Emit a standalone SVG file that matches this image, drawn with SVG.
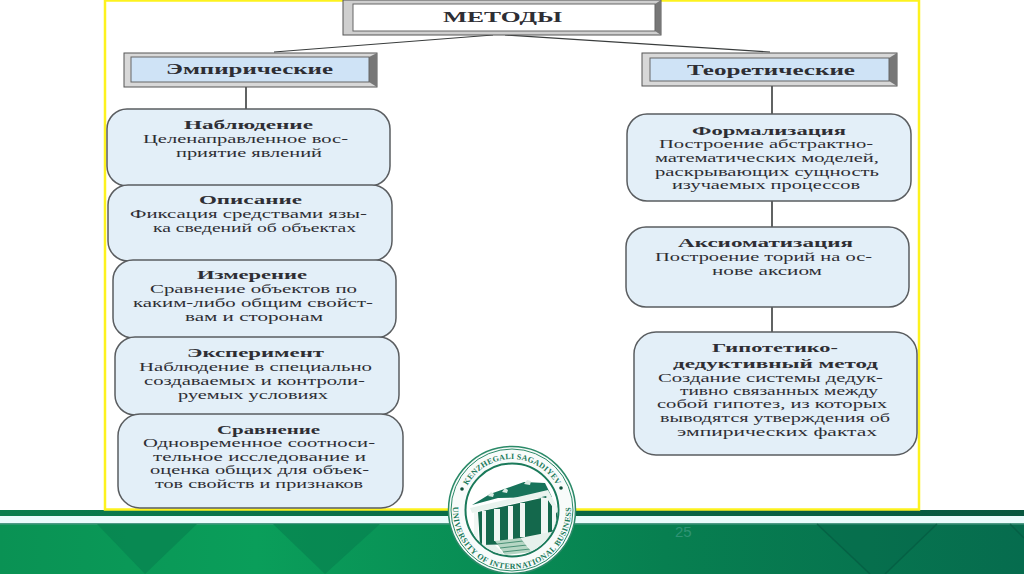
<svg xmlns="http://www.w3.org/2000/svg" width="1024" height="574" viewBox="0 0 1024 574">
<style>
text{font-family:"Liberation Serif","DejaVu Serif",serif;fill:#2e2e34}
.t{font-weight:bold;font-size:13.5px}
.b{font-size:12px}
.h{font-weight:bold;font-size:14.5px}
.n{fill:#e3eff8;stroke:#5a5d60;stroke-width:1.5}
.c{fill:none;stroke:#3a3d3d;stroke-width:1.6}
.seal{font-size:8px;font-weight:bold;fill:#1a7a5a}
.col{fill:#f0f6f3}
</style>
<defs>
<linearGradient id="g" x1="0" x2="1" y1="0" y2="0"><stop offset="0" stop-color="#0a9254"/><stop offset=".25" stop-color="#0a9e5a"/><stop offset=".65" stop-color="#077f50"/><stop offset="1" stop-color="#066c4e"/></linearGradient>
<linearGradient id="g2" x1="0" x2="1" y1="0" y2="0"><stop offset="0" stop-color="#0a7d4d"/><stop offset="1" stop-color="#07573f"/></linearGradient>
<path id="top" d="M461 510A51 51 0 0 1 563 510"/>
<path id="bot" d="M455.300 493.700A59 59 0 1 0 568.700 493.700"/>
<clipPath id="disc"><circle cx="512" cy="510" r="45.500"/></clipPath>
</defs>
<rect width="1024" height="574" fill="#fff"/>
<g id="footer">
<rect y="510" width="1024" height="64" fill="url(#g)"/>
<rect y="510" width="1024" height="6" fill="url(#g2)"/>
<rect y="516" width="1024" height="8" fill="#e9fbfb"/>
<rect y="523" width="1024" height="1.500" fill="#4e9a85"/>
<path d="M97 524H197L145 574ZM273 524H380L325 574Z" fill="#067f4e" opacity=".6"/>
<path d="M817 524H937L885 574H870Z" fill="#066548" opacity=".3"/>
<path d="M817 524L870 574M937 524L885 574M1010 524L1024 538" fill="none" stroke="#05573f" stroke-width="1.500" opacity=".6"/>
</g>
<rect id="frame" x="105" y="0.500" width="814" height="509" fill="#fff" stroke="#fdf21e" stroke-width="2.500"/>
<g id="connectors">
<path class="c" d="M246 87V109M772 86V114M772 201V227M772 307V332"/>
<path class="c" style="stroke-width:1.200" d="M274 52L493 35M505 35L770 52"/>
</g>
<g id="methods">
<rect x="343" y="0" width="318" height="35" fill="#cfcfcf" stroke="#555"/>
<path d="M655 4L661 0V35L655 31Z" fill="#777"/>
<rect x="353" y="4" width="302" height="27" fill="#fff" stroke="#666"/>
<text class="h" x="443" y="22" textLength="119" lengthAdjust="spacingAndGlyphs">МЕТОДЫ</text>
</g>
<g id="empirical">
<rect x="124" y="53" width="253" height="34" fill="#d8d8d8" stroke="#555"/>
<path d="M369 57L377 53V87L369 82Z" fill="#777"/>
<rect x="131" y="57" width="238" height="25" fill="#cfe3f6" stroke="#666"/>
<text class="h" x="166" y="74" textLength="167" lengthAdjust="spacingAndGlyphs">Эмпирические</text>
</g>
<g id="theoretical">
<rect x="642" y="53" width="255" height="33" fill="#d8d8d8" stroke="#555"/>
<path d="M889 58L897 53V86L889 81Z" fill="#777"/>
<rect x="650" y="58" width="239" height="23" fill="#cfe3f6" stroke="#666"/>
<text class="h" x="687" y="75" textLength="168" lengthAdjust="spacingAndGlyphs">Теоретические</text>
</g>
<g id="observation">
<rect class="n" x="107" y="109" width="283" height="77" rx="20"/>
<text class="t" x="184" y="129" textLength="129" lengthAdjust="spacingAndGlyphs">Наблюдение</text>
<text class="b" x="143" y="143" textLength="205" lengthAdjust="spacingAndGlyphs">Целенаправленное вос-</text>
<text class="b" x="176" y="157" textLength="146" lengthAdjust="spacingAndGlyphs">приятие явлений</text>
</g>
<g id="description">
<rect class="n" x="108" y="185" width="284" height="76" rx="20"/>
<text class="t" x="199" y="204" textLength="103" lengthAdjust="spacingAndGlyphs">Описание</text>
<text class="b" x="130" y="218" textLength="237" lengthAdjust="spacingAndGlyphs">Фиксация средствами язы-</text>
<text class="b" x="153" y="232" textLength="203" lengthAdjust="spacingAndGlyphs">ка сведений об объектах</text>
</g>
<g id="measurement">
<rect class="n" x="113" y="260" width="283" height="78" rx="20"/>
<text class="t" x="197" y="279" textLength="110" lengthAdjust="spacingAndGlyphs">Измерение</text>
<text class="b" x="150" y="293" textLength="207" lengthAdjust="spacingAndGlyphs">Сравнение объектов по</text>
<text class="b" x="133" y="307" textLength="240" lengthAdjust="spacingAndGlyphs">каким-либо общим свойст-</text>
<text class="b" x="185" y="321" textLength="138" lengthAdjust="spacingAndGlyphs">вам и сторонам</text>
</g>
<g id="experiment">
<rect class="n" x="115" y="337" width="284" height="78" rx="20"/>
<text class="t" x="187" y="357" textLength="137" lengthAdjust="spacingAndGlyphs">Эксперимент</text>
<text class="b" x="139" y="371" textLength="233" lengthAdjust="spacingAndGlyphs">Наблюдение в специально</text>
<text class="b" x="144" y="385" textLength="221" lengthAdjust="spacingAndGlyphs">создаваемых и контроли-</text>
<text class="b" x="178" y="399" textLength="150" lengthAdjust="spacingAndGlyphs">руемых условиях</text>
</g>
<g id="comparison">
<rect class="n" x="118" y="414" width="285" height="94" rx="22"/>
<text class="t" x="217" y="434" textLength="103" lengthAdjust="spacingAndGlyphs">Сравнение</text>
<text class="b" x="143" y="447" textLength="232" lengthAdjust="spacingAndGlyphs">Одновременное соотноси-</text>
<text class="b" x="153" y="461" textLength="213" lengthAdjust="spacingAndGlyphs">тельное исследование и</text>
<text class="b" x="150" y="474" textLength="219" lengthAdjust="spacingAndGlyphs">оценка общих для объек-</text>
<text class="b" x="155" y="488" textLength="208" lengthAdjust="spacingAndGlyphs">тов свойств и признаков</text>
</g>
<g id="formalization">
<rect class="n" x="627" y="114" width="284" height="87" rx="20"/>
<text class="t" x="692" y="135" textLength="154" lengthAdjust="spacingAndGlyphs">Формализация</text>
<text class="b" x="659" y="148" textLength="214" lengthAdjust="spacingAndGlyphs">Построение абстрактно-</text>
<text class="b" x="655" y="162" textLength="224" lengthAdjust="spacingAndGlyphs">математических моделей,</text>
<text class="b" x="655" y="176" textLength="224" lengthAdjust="spacingAndGlyphs">раскрывающих сущность</text>
<text class="b" x="672" y="189" textLength="188" lengthAdjust="spacingAndGlyphs">изучаемых процессов</text>
</g>
<g id="axiomatization">
<rect class="n" x="626" y="227" width="283" height="80" rx="20"/>
<text class="t" x="678" y="247" textLength="175" lengthAdjust="spacingAndGlyphs">Аксиоматизация</text>
<text class="b" x="655" y="261" textLength="217" lengthAdjust="spacingAndGlyphs">Построение торий на ос-</text>
<text class="b" x="712" y="275" textLength="110" lengthAdjust="spacingAndGlyphs">нове аксиом</text>
</g>
<g id="hypothetico">
<rect class="n" x="634" y="332" width="283" height="123" rx="22"/>
<text class="t" x="712" y="352" textLength="126" lengthAdjust="spacingAndGlyphs">Гипотетико-</text>
<text class="t" x="673" y="368" textLength="205" lengthAdjust="spacingAndGlyphs">дедуктивный метод</text>
<text class="b" x="658" y="382" textLength="225" lengthAdjust="spacingAndGlyphs">Создание системы дедук-</text>
<text class="b" x="680" y="395" textLength="198" lengthAdjust="spacingAndGlyphs">тивно связанных между</text>
<text class="b" x="657" y="408" textLength="230" lengthAdjust="spacingAndGlyphs">собой гипотез, из которых</text>
<text class="b" x="660" y="422" textLength="230" lengthAdjust="spacingAndGlyphs">выводятся утверждения об</text>
<text class="b" x="677" y="436" textLength="200" lengthAdjust="spacingAndGlyphs">эмпирических фактах</text>
</g>
<g id="seal">
<circle cx="512" cy="510" r="63.500" fill="#f8fbfa" stroke="#2b8a68" stroke-width="1.500"/>
<circle cx="512" cy="510" r="61" fill="none" stroke="#2b8a68" stroke-width="1"/>
<circle cx="512" cy="510" r="46.500" fill="#fff" stroke="#1a7a5a" stroke-width="2"/>
<text class="seal"><textPath href="#top" startOffset="50%" text-anchor="middle" letter-spacing=".2">KENZHEGALI SAGADIYEV</textPath></text>
<text class="seal"><textPath href="#bot" startOffset="50%" text-anchor="middle" letter-spacing=".5">UNIVERSITY OF INTERNATIONAL BUSINESS</textPath></text>
<circle cx="462" cy="489" r="1.800" fill="#0f4f3a"/><circle cx="561" cy="488" r="1.800" fill="#0f4f3a"/>
<g clip-path="url(#disc)">
<path d="M472 505L490 494L524 482L545 483L552 497L498 498Z" fill="#17735a"/>
<path d="M478 512L546 497L558 515L556 538L520 544L480 545Z" fill="#14684c"/>
<path d="M470 508L548 490L560 512H556L546 496L472 513Z" fill="#e9f3ee"/>
<path class="col" d="M474 512h4v33h-4zM482 511h4v34h-4zM494 509h6v32h-6zM508 506h5v34h-5zM520 503h5v34h-5zM541 498h7v36h-7zM552 505h4v25h-4z"/>
<path d="M488 496l3-4 3 2-1 3zM502 492l3-4 3 2-1 3zM524 484l3-4 4 1-1 4z" fill="#dcebe4"/>
<path d="M495 541L520 538L532 552L505 555Z" fill="#b5d6c4"/>
<path d="M497 544L523 541M500 548L527 545M503 552L530 549" stroke="#2f7f62" stroke-width=".8"/>
<path d="M520 538L560 530V552H532ZM470 545H495L505 555H480Z" fill="#e6f1ec"/>
</g>
</g>
<text id="page" x="675" y="537" font-size="15" style="font-family:'Liberation Sans',sans-serif;fill:#2f9474">25</text>
</svg>
